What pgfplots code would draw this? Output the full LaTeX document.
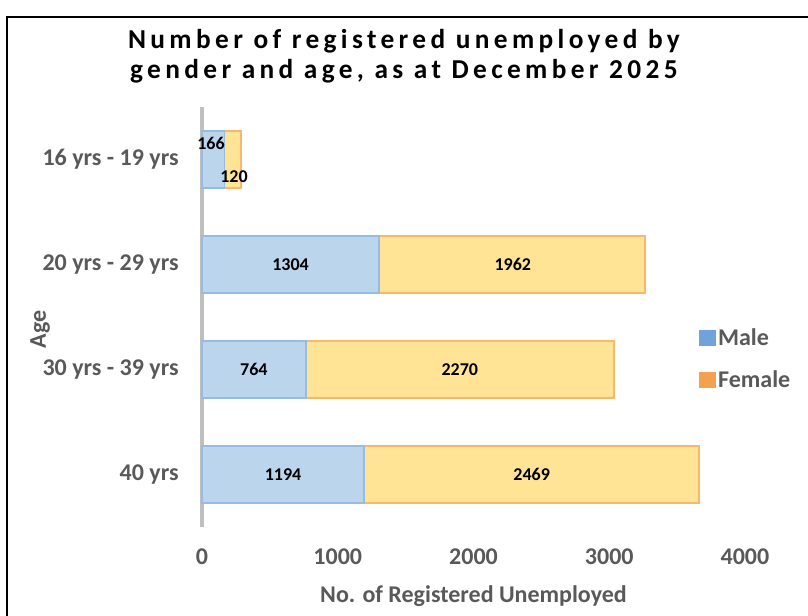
\documentclass[border=0pt]{standalone}
\usepackage{pgfplots}
\usepackage{pgfplotstable}
\pgfplotsset{compat=1.18}
\usepackage{fontspec}
\setmainfont{Carlito}
\newfontfamily\titlefont[LetterSpace=16]{Carlito}

\definecolor{blueIn}{RGB}{187,213,237}
\definecolor{blueEdge}{RGB}{150,188,230}
\definecolor{orangeIn}{RGB}{254,228,148}
\definecolor{orangeEdge}{RGB}{246,184,108}
\definecolor{legBlue}{RGB}{111,163,218}
\definecolor{legOrange}{RGB}{243,160,80}
\definecolor{txtgrey}{RGB}{89,89,89}
\definecolor{axisgrey}{RGB}{191,191,191}

\tikzset{vlabel/.style={font=\fontsize{13.5}{16}\selectfont\bfseries, text=black}}

\pgfplotstableread{
pos  male female
0    1194 2469
1    764  2270
2    1304 1962
3    166  120
}\agedata

\begin{document}
\begin{tikzpicture}
\useasboundingbox (-151.5pt,-66pt) rectangle (454.5pt,395.25pt);
\draw[line width=1.4pt] (-146.25pt,-80pt) -- (-146.25pt,382.5pt) -- (470pt,382.5pt);
\node[font=\titlefont\fontsize{20.5}{23}\selectfont\bfseries, align=center] at (151.5pt,353pt)
  {Number of registered unemployed by\\gender and age, as at December 2025};
\begin{axis}[
  at={(0,0)}, anchor=south west,
  scale only axis, width=407.25pt, height=315pt,
  xbar stacked, bar width=43pt,
  xmin=0, xmax=4000, ymin=-0.5, ymax=3.5,
  xtick={0,1000,2000,3000,4000},
  ytick={0,1,2,3},
  yticklabels={40 yrs, 30 yrs - 39 yrs, 20 yrs - 29 yrs, 16 yrs - 19 yrs},
  axis x line*=bottom, axis y line*=left,
  x axis line style={draw=none},
  y axis line style={draw=axisgrey, line width=3pt},
  major tick length=0pt,
  ticklabel style={font=\fontsize{18}{21}\selectfont\bfseries, text=txtgrey},
  yticklabel style={xshift=-14pt},
  xticklabel style={yshift=-13pt},
  scaled x ticks=false,
  /pgf/number format/1000 sep={},
  /pgf/number format/assume math mode=true,
  xlabel={No. of Registered Unemployed}, ylabel={Age},
  label style={font=\fontsize{18}{21}\selectfont\bfseries, text=txtgrey},
  xlabel style={yshift=-9pt},
  ylabel style={at={(axis description cs:-0.298,0.47)}, anchor=center},
  legend style={draw=none, fill=none, at={(0.915,0.40)}, anchor=west,
    font=\fontsize{18}{21}\selectfont\bfseries, text=txtgrey, row sep=13pt,
    inner xsep=0pt},
  legend cell align=left,
  clip=false,
]
\addplot[fill=blueIn, draw=blueEdge, line width=1.3pt,
  legend image code/.code={\fill[legBlue] (0pt,-5.5pt) rectangle (11pt,5.5pt);}]
  table[x=male, y=pos] {\agedata};
\addlegendentry{Male}
\addplot[fill=orangeIn, draw=orangeEdge, line width=1.3pt,
  legend image code/.code={\fill[legOrange] (0pt,-5.5pt) rectangle (11pt,5.5pt);}]
  table[x=female, y=pos] {\agedata};
\addlegendentry{Female}
\coordinate (m0) at (axis cs:597,0);
\coordinate (f0) at (axis cs:2428.5,0);
\coordinate (m1) at (axis cs:382,1);
\coordinate (f1) at (axis cs:1899,1);
\coordinate (m2) at (axis cs:652,2);
\coordinate (f2) at (axis cs:2290,2);
\coordinate (m3) at (axis cs:66,3.157);
\coordinate (f3) at (axis cs:236,2.833);
\end{axis}
\node[vlabel] at (m0) {1194};
\node[vlabel] at (f0) {2469};
\node[vlabel] at (m1) {764};
\node[vlabel] at (f1) {2270};
\node[vlabel] at (m2) {1304};
\node[vlabel] at (f2) {1962};
\node[vlabel] at (m3) {166};
\node[vlabel] at (f3) {120};
\end{tikzpicture}
\end{document}
